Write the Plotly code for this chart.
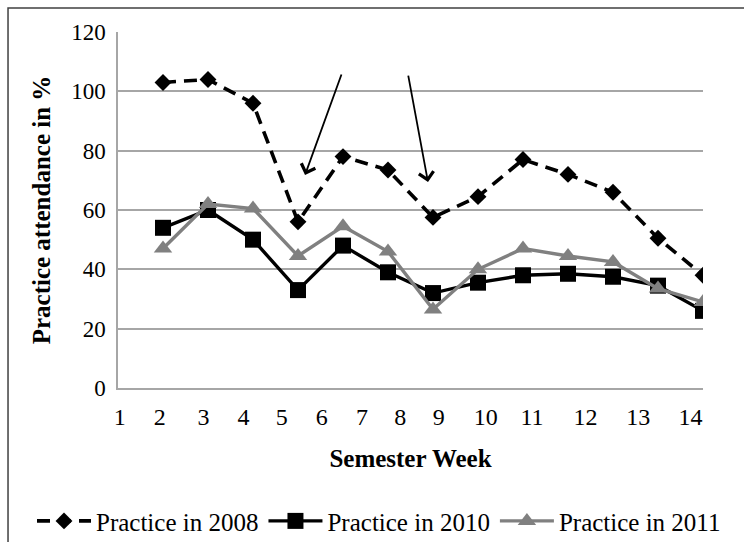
import plotly.graph_objects as go

# Semester weeks with recorded practice attendance
weeks = [2, 3, 4, 5, 6, 7, 8, 9, 10, 11, 12, 13, 14]

# Practice attendance in % per semester week
attendance_2008 = [103, 104, 96, 56, 78, 73.5, 57.5, 64.5, 77, 72, 66, 50.5, 38]
attendance_2010 = [54, 60, 50, 33, 48, 39, 32, 35.5, 38, 38.5, 37.5, 34.5, 26]
attendance_2011 = [47, 62, 60.5, 44.5, 54.5, 46, 26.5, 40, 47, 44.5, 42.5, 33.5, 29]

series_names = ["Practice in 2008", "Practice in 2010", "Practice in 2011"]

# Week labels along the x axis and where each label sits
week_labels = [str(w) for w in range(1, 15)]
week_label_pos = [1.04, 1.93, 2.90, 3.79, 4.64, 5.53, 6.42, 7.27, 8.13,
                  9.17, 10.20, 11.39, 12.56, 13.72]

FONT = "Liberation Serif"
GRID = "#a6a6a6"
GREY_LINE = "#808080"

fig = go.Figure()

fig.add_trace(go.Scatter(
    x=weeks, y=attendance_2008, name=series_names[0], mode="lines+markers",
    line=dict(color="black", width=3.6, dash="13px,8px"),
    marker=dict(symbol="diamond", size=13, color="black"),
))
fig.add_trace(go.Scatter(
    x=weeks, y=attendance_2010, name=series_names[1], mode="lines+markers",
    line=dict(color="black", width=3.4),
    marker=dict(symbol="square", size=16, color="black"),
))
fig.add_trace(go.Scatter(
    x=weeks, y=attendance_2011, name=series_names[2], mode="lines+markers",
    line=dict(color=GREY_LINE, width=3.4),
    marker=dict(symbol="triangle-up", size=16, color=GREY_LINE),
))

# Arrows pointing at the two drops in 2008 attendance
for tip_x, tip_y, tail_x, tail_y in [(5.156, 71.8, 5.978, 106.2),
                                     (7.889, 69.4, 7.444, 105.8)]:
    fig.add_annotation(
        x=tip_x, y=tip_y, ax=tail_x, ay=tail_y,
        xref="x", yref="y", axref="x", ayref="y",
        text="", showarrow=True, arrowhead=4, arrowsize=1.6,
        arrowwidth=1.8, arrowcolor="black",
    )

# Outer chart frame
fig.add_shape(
    type="rect", xref="paper", yref="paper",
    x0=-0.188, x1=1.08, y0=-0.46, y1=1.0674,
    line=dict(color="#404040", width=1.5), fillcolor="rgba(0,0,0,0)",
    layer="below",
)

fig.update_layout(
    width=744, height=542, autosize=False,
    margin=dict(l=118, r=41, t=32, b=154, autoexpand=False),
    paper_bgcolor="white", plot_bgcolor="white",
    font=dict(family=FONT, size=24, color="black"),
    showlegend=True,
    legend=dict(
        orientation="h", x=-0.147, xanchor="left", y=-0.374, yanchor="middle",
        font=dict(family=FONT, size=25, color="black"),
        itemwidth=54, tracegroupgap=0,
        bgcolor="rgba(0,0,0,0)",
    ),
)

fig.update_xaxes(
    range=[1, 14], showgrid=False, zeroline=False,
    showline=True, linecolor=GRID, linewidth=1.5,
    tickmode="array", tickvals=week_label_pos, ticktext=week_labels,
    ticks="", tickfont=dict(family=FONT, size=24, color="black"),
    ticklabelstandoff=6,
    title=dict(text="<b>Semester Week</b>", font=dict(family=FONT, size=25),
               standoff=21),
)
fig.update_yaxes(
    range=[0, 120], dtick=20, showgrid=True, gridcolor=GRID, gridwidth=1.5,
    zeroline=False, showline=True, linecolor=GRID, linewidth=1.5,
    ticks="", tickfont=dict(family=FONT, size=23, color="black"),
    ticklabelstandoff=6,
    title=dict(text="<b>Practice attendance in %</b>",
               font=dict(family=FONT, size=25), standoff=13),
)

fig.write_html("out.html")
